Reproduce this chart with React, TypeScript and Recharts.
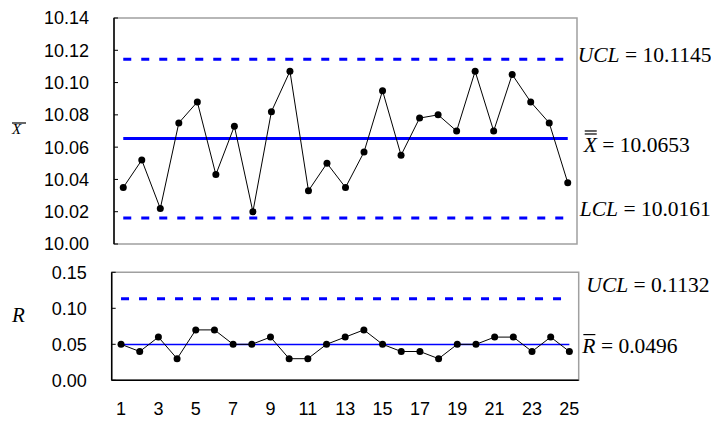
import React from "react"
import { LineChart, Line, XAxis, YAxis, ReferenceLine, ReferenceArea } from "recharts"

// subgroup numbers
const samples = [1, 2, 3, 4, 5, 6, 7, 8, 9, 10, 11, 12, 13, 14, 15, 16, 17, 18, 19, 20, 21, 22, 23, 24, 25]

// subgroup means
const xbarValues = [
  10.035, 10.052, 10.022, 10.075, 10.088, 10.043, 10.073, 10.02, 10.082, 10.107, 10.033, 10.05, 10.035,
  10.057, 10.095, 10.055, 10.078, 10.08, 10.07, 10.107, 10.07, 10.105, 10.088, 10.075, 10.038,
]

// subgroup ranges
const rangeValues = [
  0.05, 0.04, 0.06, 0.03, 0.07, 0.07, 0.05, 0.05, 0.06, 0.03, 0.03, 0.05, 0.06,
  0.07, 0.05, 0.04, 0.04, 0.03, 0.05, 0.05, 0.06, 0.06, 0.04, 0.06, 0.04,
]

const sampleTicks = [1, 3, 5, 7, 9, 11, 13, 15, 17, 19, 21, 23, 25]
const xbarTicks = [10.0, 10.02, 10.04, 10.06, 10.08, 10.1, 10.12, 10.14]
const rangeTicks = [0, 0.05, 0.1, 0.15]

const xbarUcl = 10.1145
const xbarCl = 10.0653
const xbarLcl = 10.0161
const rangeUcl = 0.1132
const rangeCl = 0.0496

const data = samples.map((n, i) => ({ n, xbar: xbarValues[i], r: rangeValues[i] }))

const serif = "'Liberation Serif', 'Times New Roman', serif"
const sans = "'Liberation Sans', Arial, sans-serif"
const blue = "#0000ff"
const frameGray = "#a0a0a0"

const tickStyle = { fill: "#000", fontSize: 18, fontFamily: sans }

function LimitLabel(props: any) {
  const { viewBox, name, text, dx, dy, bars = 0 } = props
  if (!viewBox) return null
  const x = viewBox.x + viewBox.width + dx
  const y = viewBox.y + dy
  return (
    <g>
      <text x={x} y={y} fontFamily={serif} fontSize={21.5} fill="#000">
        <tspan fontStyle="italic">{name}</tspan>
        {text}
      </text>
      {bars >= 1 && <line x1={x + 1} x2={x + 13} y1={y - 18} y2={y - 18} stroke="#000" strokeWidth={1.2} />}
      {bars >= 2 && <line x1={x + 1} x2={x + 13} y1={y - 21} y2={y - 21} stroke="#000" strokeWidth={1.2} />}
    </g>
  )
}

function AxisTitle(props: any) {
  const { viewBox, name, size, dy, bar } = props
  if (!viewBox) return null
  const x = viewBox.x + 12
  const y = viewBox.y + viewBox.height / 2 + dy
  return (
    <g>
      <text x={x} y={y} fontFamily={serif} fontStyle="italic" fontSize={size} fill="#000">
        {name}
      </text>
      {bar && <line x1={x} x2={x + 14} y1={y - 11} y2={y - 11} stroke="#000" strokeWidth={1.2} />}
    </g>
  )
}

function XbarChart() {
  return (
    <LineChart width={711} height={260} data={data} margin={{ top: 18, right: 134, bottom: 16, left: 0 }}>
      {/* gray plot-area border */}
      <ReferenceArea y1={10} y2={10.14} ifOverflow="visible" fill="none" stroke={frameGray} strokeWidth={1.5} />
      <XAxis
        dataKey="n"
        type="number"
        domain={[0.5, 25.5]}
        height={0}
        tick={false}
        tickLine={false}
        axisLine={{ stroke: "#000", strokeWidth: 1.5 }}
      />
      <YAxis
        width={114}
        type="number"
        domain={[10, 10.14]}
        ticks={xbarTicks}
        interval={0}
        tick={tickStyle}
        tickFormatter={(v: number) => v.toFixed(2)}
        tickSize={-4}
        tickMargin={29}
        tickLine={{ stroke: "#000" }}
        axisLine={{ stroke: "#000", strokeWidth: 1.5 }}
        label={(p: any) => <AxisTitle {...p} name="X" size={15} dy={3} bar />}
      />
      <ReferenceLine
        segment={[{ x: 1, y: xbarUcl }, { x: 25, y: xbarUcl }]}
        ifOverflow="visible"
        stroke={blue}
        strokeWidth={3}
        strokeDasharray="8 10"
        label={(p: any) => <LimitLabel {...p} name="UCL" text=" = 10.1145" dx={10} dy={3.3} />}
      />
      <ReferenceLine
        segment={[{ x: 1, y: xbarCl }, { x: 25, y: xbarCl }]}
        ifOverflow="visible"
        stroke={blue}
        strokeWidth={3}
        label={(p: any) => <LimitLabel {...p} name="X" text=" = 10.0653" dx={16} dy={13.4} bars={2} />}
      />
      <ReferenceLine
        segment={[{ x: 1, y: xbarLcl }, { x: 25, y: xbarLcl }]}
        ifOverflow="visible"
        stroke={blue}
        strokeWidth={3}
        strokeDasharray="8 10"
        label={(p: any) => <LimitLabel {...p} name="LCL" text=" = 10.0161" dx={12} dy={-2} />}
      />
      <Line
        dataKey="xbar"
        stroke="#000"
        strokeWidth={1}
        dot={{ r: 3.5, fill: "#000", stroke: "#000", strokeWidth: 0 }}
        activeDot={false}
        isAnimationActive={false}
      />
    </LineChart>
  )
}

function RangeChart() {
  return (
    <LineChart width={711} height={167} data={data} margin={{ top: 17.3, right: 132.3, bottom: 11.7, left: 0 }}>
      <ReferenceArea y1={0} y2={0.15} ifOverflow="visible" fill="none" stroke={frameGray} strokeWidth={1.5} />
      <XAxis
        dataKey="n"
        type="number"
        domain={[0.5, 25.5]}
        ticks={sampleTicks}
        interval={0}
        height={30}
        tick={tickStyle}
        tickLine={false}
        tickSize={0}
        tickMargin={22}
        axisLine={{ stroke: "#000", strokeWidth: 1.5 }}
      />
      <YAxis
        width={111.7}
        type="number"
        domain={[0, 0.15]}
        ticks={rangeTicks}
        interval={0}
        tick={tickStyle}
        tickFormatter={(v: number) => v.toFixed(2)}
        tickSize={-4}
        tickMargin={29}
        tickLine={{ stroke: "#000" }}
        axisLine={{ stroke: "#000", strokeWidth: 1.5 }}
        label={(p: any) => <AxisTitle {...p} name="R" size={21} dy={-4.3} />}
      />
      <ReferenceLine
        segment={[{ x: 1, y: rangeUcl }, { x: 25, y: rangeUcl }]}
        ifOverflow="visible"
        stroke={blue}
        strokeWidth={3}
        strokeDasharray="8 10"
        label={(p: any) => <LimitLabel {...p} name="UCL" text=" = 0.1132" dx={17} dy={-7} />}
      />
      <ReferenceLine
        segment={[{ x: 1, y: rangeCl }, { x: 25, y: rangeCl }]}
        ifOverflow="visible"
        stroke={blue}
        strokeWidth={1.5}
        label={(p: any) => <LimitLabel {...p} name="R" text=" = 0.0496" dx={13} dy={8} bars={1} />}
      />
      <Line
        dataKey="r"
        stroke="#000"
        strokeWidth={1}
        dot={{ r: 3.5, fill: "#000", stroke: "#000", strokeWidth: 0 }}
        activeDot={false}
        isAnimationActive={false}
      />
    </LineChart>
  )
}

export default function App() {
  return (
    <div style={{ position: "absolute", left: 0, top: 0, width: 711, height: 422, background: "#fff" }}>
      <div style={{ position: "absolute", left: 0, top: 0 }}>
        <XbarChart />
      </div>
      <div style={{ position: "absolute", left: 0, top: 255 }}>
        <RangeChart />
      </div>
    </div>
  )
}
